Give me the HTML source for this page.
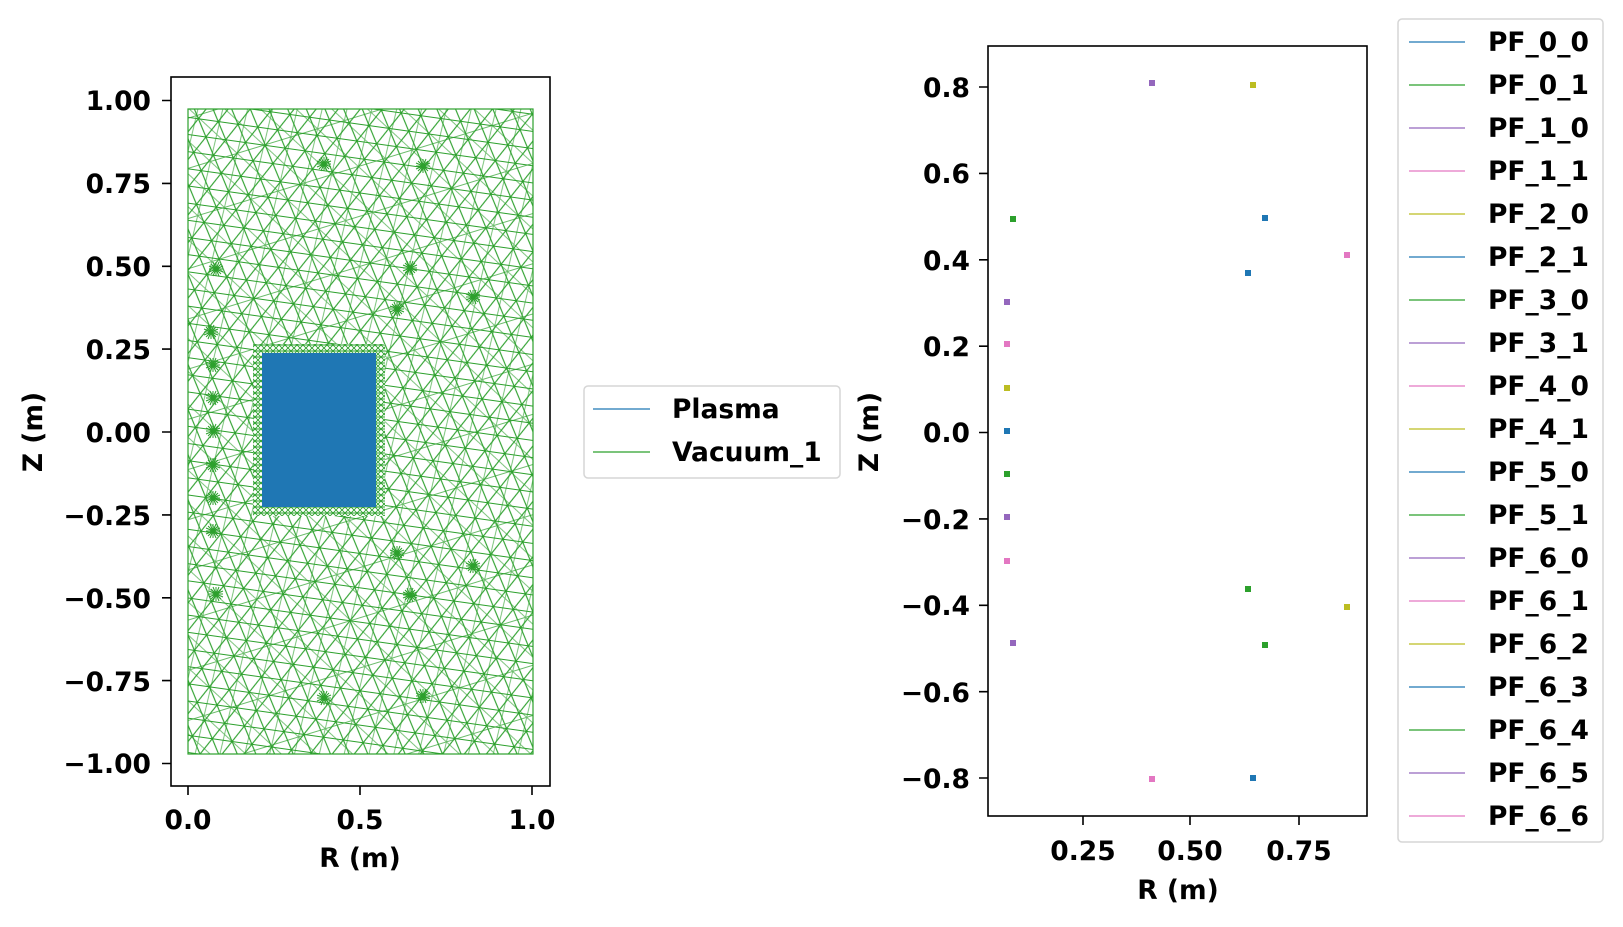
<!DOCTYPE html>
<html><head><meta charset="utf-8"><style>
body{margin:0;background:#fff;}
svg text{font-family:"DejaVu Sans","Liberation Sans",sans-serif;font-weight:bold;fill:#000;}
</style></head><body>
<svg width="1623" height="922" viewBox="0 0 1623 922" xmlns="http://www.w3.org/2000/svg">
<defs>
<pattern id="tri" width="20" height="34" patternUnits="userSpaceOnUse" patternTransform="rotate(8) translate(3,5)">
<path d="M0 0H20M0 17H20M0 34H20M0 0L20 34M20 0L0 34" stroke="#2ca02c" stroke-width="1.1" fill="none"/>
</pattern>
<pattern id="tri2" width="28" height="48" patternUnits="userSpaceOnUse" patternTransform="rotate(-17)">
<path d="M0 0L28 48M28 0L0 48M0 24H28" stroke="#2ca02c" stroke-width="0.9" fill="none" opacity="0.7"/>
</pattern>
<pattern id="dense" width="6" height="6" patternUnits="userSpaceOnUse">
<path d="M0 0L6 6M6 0L0 6M0 3H6" stroke="#2ca02c" stroke-width="0.9" fill="none"/>
</pattern>
<g id="star"><path d="M-7 0H7M0 -7V7M-5 -5L5 5M5 -5L-5 5M-7 -3L7 3M-3 -7L3 7M7 -3L-7 3M3 -7L-3 7" stroke="#2ca02c" stroke-width="1"/></g>
</defs>

<!-- LEFT AXES -->
<rect x="188" y="109" width="345" height="645" fill="url(#tri)"/>
<rect x="188" y="109" width="345" height="645" fill="url(#tri2)"/>
<rect x="188" y="109" width="345" height="645" fill="none" stroke="#2ca02c" stroke-width="1.2"/>
<rect x="253" y="344" width="132" height="172" fill="#fff"/>
<rect x="253" y="344" width="132" height="172" fill="url(#dense)"/>
<rect x="262" y="353" width="114" height="154" fill="#1f77b4"/>
<g>
<use href="#star" x="324" y="164"/><use href="#star" x="423" y="166"/>
<use href="#star" x="216" y="269"/><use href="#star" x="410" y="268"/>
<use href="#star" x="397" y="309"/><use href="#star" x="473" y="297"/>
<use href="#star" x="211" y="332"/><use href="#star" x="213" y="365"/>
<use href="#star" x="213" y="398"/><use href="#star" x="213" y="431"/>
<use href="#star" x="213" y="465"/><use href="#star" x="213" y="498"/>
<use href="#star" x="213" y="531"/><use href="#star" x="397" y="553"/>
<use href="#star" x="473" y="566"/><use href="#star" x="216" y="594"/>
<use href="#star" x="410" y="595"/><use href="#star" x="324" y="698"/>
<use href="#star" x="423" y="696"/>
</g>
<rect x="171" y="77" width="379" height="709" fill="none" stroke="#000" stroke-width="1.6"/>
<g stroke="#000" stroke-width="1.6">
<path d="M171 100.5h-9M171 183.4h-9M171 266.3h-9M171 349.1h-9M171 432h-9M171 514.9h-9M171 597.8h-9M171 680.6h-9M171 763.5h-9"/>
<path d="M188 786v9M360 786v9M532 786v9"/>
</g>
<g font-size="26.5" text-anchor="end">
<text x="151" y="110">1.00</text><text x="151" y="193">0.75</text><text x="151" y="276">0.50</text>
<text x="151" y="359">0.25</text><text x="151" y="442">0.00</text><text x="151" y="525">−0.25</text>
<text x="151" y="608">−0.50</text><text x="151" y="691">−0.75</text><text x="151" y="773">−1.00</text>
</g>
<g font-size="26.5" text-anchor="middle">
<text x="188" y="829">0.0</text><text x="360" y="829">0.5</text><text x="532" y="829">1.0</text>
<text x="360" y="867">R (m)</text>
<text transform="translate(42,432) rotate(-90)">Z (m)</text>
</g>
<!-- left legend -->
<rect x="584" y="386" width="256" height="92" rx="4" fill="#fff" stroke="#d6d6d6" stroke-width="1.5"/>
<path d="M593 409h57" stroke="#1f77b4" stroke-width="1.3"/>
<path d="M593 452h57" stroke="#2ca02c" stroke-width="1.3"/>
<text x="672" y="418" font-size="26.5">Plasma</text>
<text x="672" y="461" font-size="26.5">Vacuum_1</text>

<!-- RIGHT AXES -->
<rect x="988" y="46" width="379" height="770" fill="none" stroke="#000" stroke-width="1.6"/>
<g stroke="#000" stroke-width="1.6">
<path d="M988 87h-9M988 173.4h-9M988 259.8h-9M988 346.2h-9M988 432.5h-9M988 518.9h-9M988 605.3h-9M988 691.7h-9M988 778h-9"/>
<path d="M1083 816v9M1190 816v9M1299 816v9"/>
</g>
<g font-size="26.5" text-anchor="end">
<text x="970" y="97">0.8</text><text x="970" y="183">0.6</text><text x="970" y="270">0.4</text>
<text x="970" y="356">0.2</text><text x="970" y="442">0.0</text><text x="970" y="529">−0.2</text>
<text x="970" y="615">−0.4</text><text x="970" y="702">−0.6</text><text x="970" y="788">−0.8</text>
</g>
<g font-size="26.5" text-anchor="middle">
<text x="1083" y="860">0.25</text><text x="1190" y="860">0.50</text><text x="1299" y="860">0.75</text>
<text x="1178" y="899">R (m)</text>
<text transform="translate(878,432) rotate(-90)">Z (m)</text>
</g>
<g>
<rect x="1149" y="80" width="6" height="6" fill="#9467bd"/>
<rect x="1250" y="82" width="6" height="6" fill="#bcbd22"/>
<rect x="1010" y="216" width="6" height="6" fill="#2ca02c"/>
<rect x="1262" y="215" width="6" height="6" fill="#1f77b4"/>
<rect x="1344" y="252" width="6" height="6" fill="#e377c2"/>
<rect x="1245" y="270" width="6" height="6" fill="#1f77b4"/>
<rect x="1004" y="299" width="6" height="6" fill="#9467bd"/>
<rect x="1004" y="341" width="6" height="6" fill="#e377c2"/>
<rect x="1004" y="385" width="6" height="6" fill="#bcbd22"/>
<rect x="1004" y="428" width="6" height="6" fill="#1f77b4"/>
<rect x="1004" y="471" width="6" height="6" fill="#2ca02c"/>
<rect x="1004" y="514" width="6" height="6" fill="#9467bd"/>
<rect x="1004" y="558" width="6" height="6" fill="#e377c2"/>
<rect x="1245" y="586" width="6" height="6" fill="#2ca02c"/>
<rect x="1344" y="604" width="6" height="6" fill="#bcbd22"/>
<rect x="1010" y="640" width="6" height="6" fill="#9467bd"/>
<rect x="1262" y="642" width="6" height="6" fill="#2ca02c"/>
<rect x="1149" y="776" width="6" height="6" fill="#e377c2"/>
<rect x="1250" y="775" width="6" height="6" fill="#1f77b4"/>
</g>
<!-- right legend -->
<rect x="1398" y="19" width="205" height="823" rx="4" fill="#fff" stroke="#d6d6d6" stroke-width="1.5"/>
<g stroke-width="1.3">
<path d="M1409 42h56" stroke="#1f77b4"/><path d="M1409 85h56" stroke="#2ca02c"/>
<path d="M1409 128h56" stroke="#9467bd"/><path d="M1409 171h56" stroke="#e377c2"/>
<path d="M1409 214h56" stroke="#bcbd22"/><path d="M1409 257h56" stroke="#1f77b4"/>
<path d="M1409 300h56" stroke="#2ca02c"/><path d="M1409 343h56" stroke="#9467bd"/>
<path d="M1409 386h56" stroke="#e377c2"/><path d="M1409 429h56" stroke="#bcbd22"/>
<path d="M1409 472h56" stroke="#1f77b4"/><path d="M1409 515h56" stroke="#2ca02c"/>
<path d="M1409 558h56" stroke="#9467bd"/><path d="M1409 601h56" stroke="#e377c2"/>
<path d="M1409 644h56" stroke="#bcbd22"/><path d="M1409 687h56" stroke="#1f77b4"/>
<path d="M1409 730h56" stroke="#2ca02c"/><path d="M1409 773h56" stroke="#9467bd"/>
<path d="M1409 816h56" stroke="#e377c2"/>
</g>
<g font-size="26.5">
<text x="1488" y="51">PF_0_0</text><text x="1488" y="94">PF_0_1</text>
<text x="1488" y="137">PF_1_0</text><text x="1488" y="180">PF_1_1</text>
<text x="1488" y="223">PF_2_0</text><text x="1488" y="266">PF_2_1</text>
<text x="1488" y="309">PF_3_0</text><text x="1488" y="352">PF_3_1</text>
<text x="1488" y="395">PF_4_0</text><text x="1488" y="438">PF_4_1</text>
<text x="1488" y="481">PF_5_0</text><text x="1488" y="524">PF_5_1</text>
<text x="1488" y="567">PF_6_0</text><text x="1488" y="610">PF_6_1</text>
<text x="1488" y="653">PF_6_2</text><text x="1488" y="696">PF_6_3</text>
<text x="1488" y="739">PF_6_4</text><text x="1488" y="782">PF_6_5</text>
<text x="1488" y="825">PF_6_6</text>
</g>
</svg>
</body></html>
